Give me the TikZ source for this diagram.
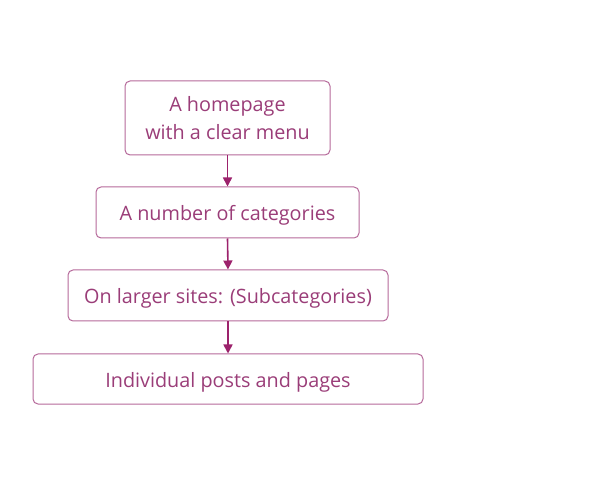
\documentclass[tikz,border=0pt]{standalone}
\usepackage{fontspec}
\setmainfont{Open Sans}
\usetikzlibrary{arrows.meta}
\definecolor{boxline}{HTML}{B5699A}
\definecolor{txt}{HTML}{9A3D78}
\definecolor{arr}{HTML}{9C226C}
\newcommand{\lowtxt}[1]{\raisebox{-3pt}[\height][\depth]{#1}}
\begin{document}
\begin{tikzpicture}[x=1pt,y=-1pt,
  stepbox/.style={draw=boxline, line width=1pt, rounded corners=5pt, text=txt, align=center, font=\fontsize{19.8}{28}\selectfont, inner sep=0pt},
  flow/.style={draw=arr, line width=1.6pt, -{Triangle[length=9pt,width=9pt]}}]
\useasboundingbox (0,0) rectangle (600,486);
\node[stepbox, minimum width=205pt, minimum height=74pt] (b1) at (227.5,118) {A homepage\\with a clear menu};
\node[stepbox, minimum width=263pt, minimum height=51pt] (b2) at (227.5,212.5) {\lowtxt{A number of categories}};
\node[stepbox, minimum width=320pt, minimum height=51pt] (b3) at (228,295.5) {\lowtxt{On larger sites: (Subcategories)}};
\node[stepbox, minimum width=390pt, minimum height=50pt] (b4) at (228,379) {\lowtxt{Individual posts and pages}};
\draw[flow] (b1.south) -- (b2.north);
\draw[flow] (b2.south) -- (b3.north);
\draw[flow] (b3.south) -- (b4.north);
\end{tikzpicture}
\end{document}
